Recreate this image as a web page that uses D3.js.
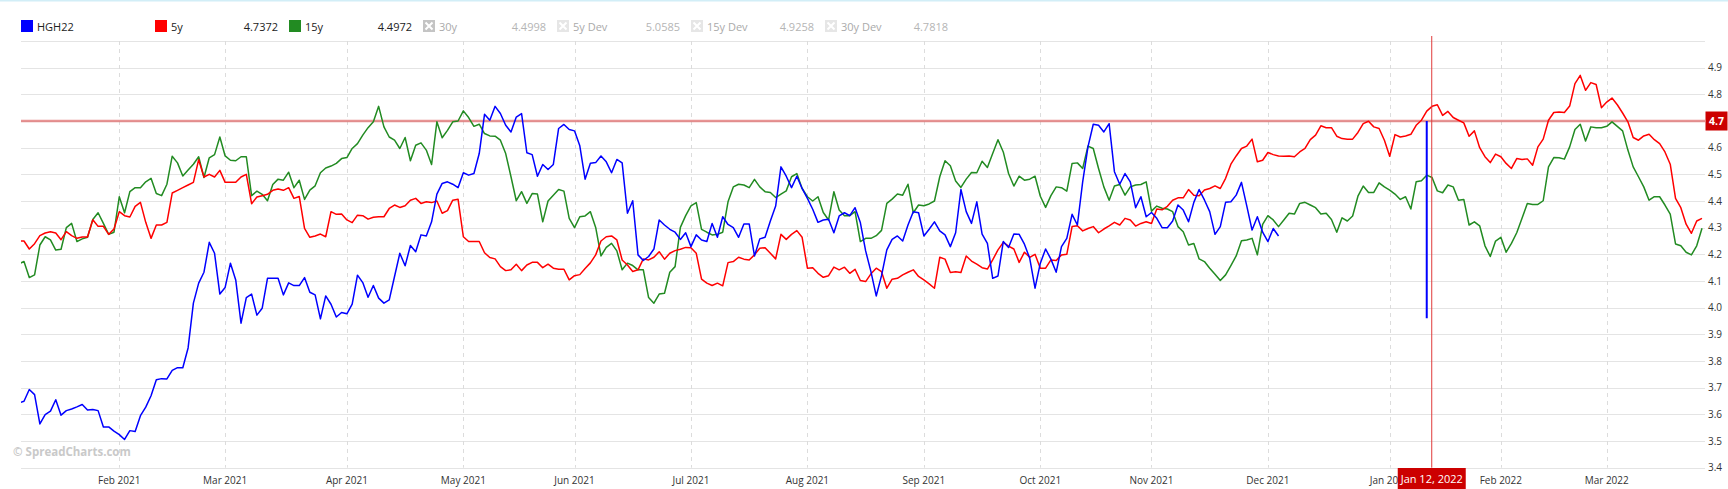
<!DOCTYPE html>
<html><head><meta charset="utf-8">
<script src="https://cdn.jsdelivr.net/npm/d3@7"></script>
<style>
body{margin:0;background:#fff;overflow:hidden;}
svg{display:block;font-family:"Open Sans",sans-serif;}
</style>
</head><body>
<svg id="chart" width="1728" height="489"></svg>
<script>
// ---------------- DATA ----------------
// trading days (Mon-Fri) from startDate to endDate
const startDate = "2021-01-05";
const endDate = "2022-03-25";

// HGH22 (one value per trading day from startDate)
const hgh22 = [
3.643,3.649,3.693,3.674,3.564,3.599,3.612,3.655,3.597,3.614,3.62,3.628,3.637,3.616,3.618,3.614,3.553,3.553,3.537,
3.524,3.506,3.539,3.536,3.595,3.627,3.67,3.73,3.734,3.733,3.765,3.775,3.775,3.849,4.017,4.092,4.133,4.245,4.204,4.051,
4.076,4.167,4.104,3.942,4.038,4.051,3.972,3.998,4.11,4.11,4.11,4.048,4.093,4.083,4.083,4.113,4.058,4.048,3.958,4.044,
4.013,3.965,3.982,3.977,4.013,4.122,4.094,4.039,4.083,4.036,4.017,4.029,4.117,4.204,4.157,4.233,4.21,4.273,4.269,4.322,
4.426,4.466,4.472,4.463,4.45,4.506,4.497,4.503,4.578,4.725,4.703,4.755,4.728,4.684,4.659,4.715,4.728,4.581,4.574,4.493,
4.537,4.518,4.537,4.672,4.687,4.668,4.663,4.607,4.482,4.542,4.544,4.569,4.547,4.506,4.556,4.543,4.354,4.401,4.198,4.177,
4.192,4.22,4.329,4.31,4.294,4.283,4.256,4.281,4.229,4.273,4.254,4.248,4.316,4.264,4.341,4.312,4.30,4.264,4.314,4.314,
4.194,4.258,4.264,4.325,4.381,4.528,4.493,4.45,4.493,4.447,4.41,4.369,4.32,4.329,4.332,4.281,4.344,4.356,4.345,4.375,
4.319,4.213,4.135,4.044,4.12,4.217,4.256,4.269,4.25,4.31,4.36,4.356,4.269,4.294,4.322,4.288,4.273,4.229,4.281,4.443,
4.36,4.316,4.397,4.276,4.241,4.11,4.119,4.248,4.226,4.276,4.275,4.238,4.185,4.073,4.167,4.22,4.182,4.133,4.229,4.26,
4.35,4.31,4.472,4.603,4.688,4.684,4.659,4.69,4.51,4.463,4.503,4.472,4.375,4.416,4.341,4.357,4.335,4.30,4.30,4.325,
4.385,4.366,4.322,4.395,4.443,4.404,4.36,4.275,4.304,4.395,4.397,4.422,4.47,4.382,4.291,4.341,4.283,4.248,4.297,4.269
];

// 5y seasonal average
const avg5y = [
4.25,4.25,4.22,4.24,4.27,4.28,4.285,4.28,4.255,4.285,4.27,4.26,4.265,4.265,4.33,4.305,4.305,4.275,4.295,
4.36,4.345,4.34,4.38,4.395,4.32,4.26,4.31,4.31,4.32,4.43,4.44,4.45,4.46,4.47,4.555,4.49,4.50,4.49,4.515,
4.47,4.47,4.47,4.49,4.50,4.39,4.415,4.42,4.425,4.44,4.445,4.44,4.45,4.41,4.417,4.297,4.264,4.269,4.276,4.266,
4.36,4.35,4.351,4.329,4.319,4.347,4.345,4.332,4.339,4.341,4.341,4.372,4.385,4.376,4.382,4.403,4.41,4.391,4.397,4.394,
4.40,4.354,4.364,4.403,4.407,4.266,4.248,4.248,4.248,4.206,4.188,4.183,4.154,4.139,4.142,4.163,4.139,4.16,4.17,4.17,
4.15,4.163,4.148,4.144,4.144,4.104,4.12,4.124,4.147,4.168,4.198,4.25,4.266,4.269,4.254,4.179,4.16,4.136,4.142,4.183,
4.179,4.189,4.21,4.182,4.204,4.214,4.219,4.226,4.225,4.204,4.107,4.092,4.083,4.092,4.082,4.169,4.173,4.189,4.182,4.179,
4.198,4.223,4.225,4.204,4.183,4.275,4.256,4.275,4.289,4.264,4.148,4.15,4.129,4.114,4.12,4.152,4.142,4.152,4.129,4.144,
4.102,4.098,4.127,4.148,4.135,4.073,4.107,4.11,4.123,4.133,4.142,4.117,4.104,4.089,4.073,4.189,4.182,4.132,4.135,4.132,
4.194,4.175,4.163,4.15,4.145,4.179,4.217,4.245,4.231,4.22,4.17,4.208,4.189,4.20,4.148,4.148,4.179,4.177,4.198,4.20,
4.304,4.307,4.288,4.297,4.304,4.281,4.295,4.307,4.32,4.31,4.335,4.329,4.306,4.316,4.322,4.316,4.37,4.367,4.38,4.403,
4.412,4.412,4.443,4.422,4.42,4.441,4.447,4.457,4.447,4.485,4.538,4.569,4.597,4.606,4.632,4.547,4.553,4.582,4.574,4.569,
4.568,4.569,4.566,4.584,4.597,4.63,4.647,4.682,4.675,4.675,4.643,4.634,4.632,4.632,4.657,4.69,4.699,4.678,4.672,4.628,
4.568,4.649,4.64,4.644,4.65,4.684,4.703,4.737,4.755,4.761,4.721,4.736,4.713,4.703,4.693,4.643,4.663,4.60,4.566,4.544,
4.576,4.566,4.541,4.522,4.559,4.556,4.558,4.534,4.603,4.632,4.703,4.732,4.734,4.732,4.756,4.84,4.871,4.815,4.844,4.837,
4.75,4.771,4.786,4.761,4.73,4.697,4.638,4.628,4.644,4.65,4.63,4.615,4.584,4.538,4.41,4.375,4.313,4.279,4.325,4.335
];

// 15y seasonal average
const avg15y = [
4.164,4.173,4.113,4.123,4.235,4.266,4.254,4.216,4.219,4.30,4.316,4.248,4.258,4.264,4.331,4.356,4.316,4.275,4.283,
4.416,4.356,4.435,4.45,4.45,4.472,4.485,4.428,4.42,4.463,4.568,4.543,4.494,4.516,4.538,4.566,4.488,4.562,4.574,4.64,
4.569,4.553,4.551,4.566,4.566,4.42,4.437,4.425,4.401,4.462,4.482,4.478,4.508,4.45,4.478,4.406,4.441,4.457,4.506,4.524,
4.531,4.541,4.559,4.563,4.597,4.615,4.647,4.675,4.697,4.755,4.678,4.64,4.628,4.597,4.638,4.551,4.609,4.618,4.591,4.537,
4.697,4.637,4.665,4.697,4.70,4.738,4.713,4.68,4.688,4.653,4.644,4.643,4.628,4.578,4.491,4.401,4.435,4.391,4.428,4.426,
4.322,4.40,4.422,4.443,4.437,4.335,4.30,4.341,4.344,4.36,4.301,4.194,4.226,4.241,4.213,4.142,4.167,4.158,4.142,4.142,
4.038,4.017,4.051,4.054,4.133,4.154,4.301,4.345,4.382,4.394,4.294,4.283,4.273,4.275,4.283,4.397,4.453,4.463,4.46,4.45,
4.481,4.453,4.435,4.432,4.413,4.426,4.438,4.491,4.503,4.447,4.416,4.40,4.416,4.357,4.329,4.435,4.366,4.345,4.345,4.36,
4.248,4.26,4.26,4.27,4.29,4.391,4.407,4.426,4.422,4.463,4.356,4.385,4.382,4.389,4.40,4.491,4.551,4.532,4.475,4.451,
4.482,4.507,4.506,4.549,4.526,4.578,4.63,4.584,4.503,4.456,4.493,4.478,4.482,4.493,4.418,4.376,4.42,4.453,4.45,4.437,
4.541,4.543,4.522,4.606,4.597,4.522,4.453,4.403,4.456,4.462,4.422,4.453,4.46,4.462,4.472,4.362,4.381,4.373,4.37,4.36,
4.304,4.285,4.235,4.241,4.183,4.173,4.148,4.125,4.102,4.123,4.158,4.194,4.251,4.254,4.26,4.198,4.312,4.345,4.329,4.304,
4.329,4.354,4.351,4.391,4.395,4.385,4.375,4.351,4.354,4.331,4.283,4.337,4.325,4.344,4.418,4.456,4.432,4.432,4.468,4.453,
4.441,4.426,4.406,4.416,4.37,4.472,4.476,4.497,4.488,4.438,4.431,4.46,4.453,4.403,4.406,4.31,4.322,4.307,4.232,4.192,
4.25,4.264,4.208,4.241,4.281,4.335,4.391,4.387,4.387,4.401,4.528,4.563,4.562,4.557,4.603,4.668,4.688,4.625,4.678,4.675,
4.675,4.68,4.697,4.68,4.663,4.591,4.528,4.491,4.453,4.403,4.416,4.416,4.385,4.351,4.239,4.232,4.208,4.198,4.232,4.298
];

// cursor (crosshair) state
const cursorDate = "2022-01-12";
const cursorLabel = "Jan 12, 2022";
const cursorPrice = 4.7;
const hgh22CursorBar = [4.70, 3.96];

// legend
const legendNames  = ["HGH22", "5y", "15y", "30y", "5y Dev", "15y Dev", "30y Dev"];
const legendValues = [null, "4.7372", "4.4972", "4.4998", "5.0585", "4.9258", "4.7818"];
const legendActive = [true, true, true, false, false, false, false];
const legendColors = ["#0000ff", "#ff0000", "#228b22", "#c4c4c4", "#e6e6e6", "#e6e6e6", "#e6e6e6"];

// y axis ticks
const yTicks = [3.4, 3.5, 3.6, 3.7, 3.8, 3.9, 4.0, 4.1, 4.2, 4.3, 4.4, 4.5, 4.6, 4.7, 4.8, 4.9];
const yGrid = [3.4, 3.5, 3.6, 3.7, 3.8, 3.9, 4.0, 4.1, 4.2, 4.3, 4.4, 4.5, 4.6, 4.7, 4.8, 4.9, 5.0];

// ---------------- CHART ----------------
const W = 1728, H = 489;
const plotL = 21, plotR = 1705, plotT = 41, plotB = 467.7;
const svg = d3.select("#chart");

const parse = d3.utcParse("%Y-%m-%d");
const days = d3.utcDay.range(parse(startDate), d3.utcDay.offset(parse(endDate), 1))
  .filter(d => d.getUTCDay() !== 0 && d.getUTCDay() !== 6);

const x = d3.scaleLinear().domain([0, days.length - 1]).range([18.7, 1702]);
const y = d3.scaleLinear().domain([3.4, 5.0]).range([plotB, plotT]);

// top border
svg.append("rect").attr("x", 0).attr("y", 0).attr("width", W).attr("height", 1.5).attr("fill", "#d2eef7");

// horizontal grid
svg.append("g").selectAll("line").data(yGrid).join("line")
  .attr("x1", plotL).attr("x2", plotR)
  .attr("y1", d => Math.round(y(d)) + 0.5).attr("y2", d => Math.round(y(d)) + 0.5)
  .attr("stroke", "#e4e4e4").attr("stroke-width", 1);

// month ticks
const monthIdx = [];
days.forEach((d, i) => { if (i > 0 && d.getUTCMonth() !== days[i - 1].getUTCMonth()) monthIdx.push(i); });
const fmtMonth = d3.utcFormat("%b %Y");

svg.append("g").selectAll("line").data(monthIdx).join("line")
  .attr("x1", i => Math.round(x(i)) + 0.5).attr("x2", i => Math.round(x(i)) + 0.5)
  .attr("y1", plotT).attr("y2", plotB)
  .attr("stroke", "#dcdcdc").attr("stroke-width", 1).attr("stroke-dasharray", "4,4");

svg.append("g").selectAll("text").data(monthIdx).join("text")
  .attr("x", i => x(i)).attr("y", 484)
  .attr("text-anchor", "middle").attr("font-size", 10).attr("fill", "#333")
  .text(i => fmtMonth(days[i]));

// y tick labels
svg.append("g").selectAll("text").data(yTicks).join("text")
  .attr("x", 1708).attr("y", d => y(d)).attr("dy", "0.35em")
  .attr("font-size", 10).attr("fill", "#333")
  .text(d => d.toFixed(1));

// watermark
svg.append("text").attr("x", 13).attr("y", 456)
  .attr("font-size", 11.5).attr("font-weight", "bold").attr("fill", "#c9c9c9")
  .text("© SpreadCharts.com");

// clip
svg.append("clipPath").attr("id", "clip").append("rect")
  .attr("x", plotL).attr("y", plotT - 5).attr("width", plotR - plotL).attr("height", plotB - plotT + 5);

// cursor horizontal line
svg.append("line").attr("x1", plotL).attr("x2", plotR)
  .attr("y1", y(cursorPrice)).attr("y2", y(cursorPrice))
  .attr("stroke", "#e07070").attr("stroke-opacity", 0.75).attr("stroke-width", 2.5);

const lineGen = d3.line().x((d, i) => x(i)).y(d => y(d));
const gLines = svg.append("g").attr("clip-path", "url(#clip)");
[[avg15y, "#228b22"], [avg5y, "#ff0000"], [hgh22, "#0000ff"]].forEach(([data, col]) => {
  gLines.append("path").datum(data).attr("d", lineGen)
    .attr("fill", "none").attr("stroke", col).attr("stroke-width", 1.5).attr("stroke-linejoin", "round");
});

// cursor
const cIdx = days.findIndex(d => +d === +parse(cursorDate));
gLines.append("line").attr("x1", x(cIdx)).attr("x2", x(cIdx))
  .attr("y1", y(hgh22CursorBar[0])).attr("y2", y(hgh22CursorBar[1]))
  .attr("stroke", "#0000ff").attr("stroke-width", 2);

const cx = x(cIdx) + 5;
svg.append("line").attr("x1", cx).attr("x2", cx).attr("y1", 36).attr("y2", plotB)
  .attr("stroke", "#e03a3a").attr("stroke-width", 1);

// date label
svg.append("rect").attr("x", cx - 34).attr("y", 468).attr("width", 68).attr("height", 21).attr("fill", "#cc0000");
svg.append("text").attr("x", cx).attr("y", 482.5).attr("text-anchor", "middle")
  .attr("font-size", 11).attr("fill", "#fff").text(cursorLabel);

// price label
svg.append("rect").attr("x", 1705.5).attr("y", y(cursorPrice) - 9.5).attr("width", 22).attr("height", 19).attr("fill", "#cc0000");
svg.append("text").attr("x", 1716.5).attr("y", y(cursorPrice)).attr("dy", "0.35em").attr("text-anchor", "middle")
  .attr("font-size", 10.5).attr("font-weight", "bold").attr("fill", "#fff").text(cursorPrice.toFixed(1));

// legend
const lg = svg.append("g");
legendNames.forEach((name, k) => {
  const lx = k === 0 ? 21 : 155 + (k - 1) * 134;
  const g = lg.append("g");
  g.append("rect").attr("x", lx).attr("y", 20).attr("width", 12).attr("height", 12).attr("fill", legendColors[k]);
  if (!legendActive[k]) {
    g.append("path").attr("d", `M${lx + 2.5},${22.5}L${lx + 9.5},${29.5}M${lx + 9.5},${22.5}L${lx + 2.5},${29.5}`)
      .attr("stroke", "#fff").attr("stroke-width", 2);
  }
  g.append("text").attr("x", lx + 16).attr("y", 30.5).attr("font-size", 11)
    .attr("fill", legendActive[k] ? "#222" : "#aaa").text(name);
  if (legendValues[k]) {
    g.append("text").attr("x", lx + 123).attr("y", 30.5).attr("font-size", 11).attr("text-anchor", "end")
      .attr("fill", legendActive[k] ? "#222" : "#b5b5b5").text(legendValues[k]);
  }
});
</script>
</body></html>
